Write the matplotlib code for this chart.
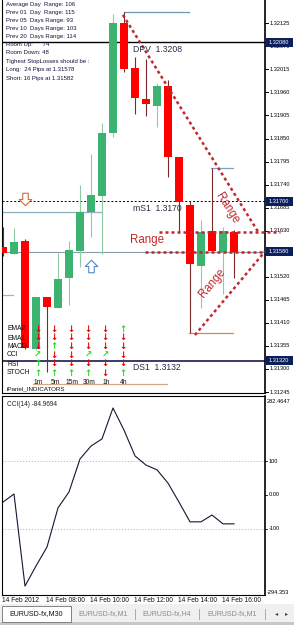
import matplotlib
matplotlib.use("Agg")
import matplotlib.pyplot as plt
import matplotlib.transforms as mtransforms
from matplotlib.path import Path
from matplotlib.patches import Rectangle

plt.rcParams['font.family'] = ['Liberation Sans', 'DejaVu Sans']

# ---------------- data ----------------
date_label = "14 Feb"
year_label = "2012"
times = ["06:00", "06:30", "07:00", "07:30", "08:00", "08:30", "09:00", "09:30",
         "10:00", "10:30", "11:00", "11:30", "12:00", "12:30", "13:00", "13:30",
         "14:00", "14:30", "15:00", "15:30", "16:00", "16:30"]
opens = [1.31591, 1.31574, 1.31605, 1.31348, 1.31472, 1.31445, 1.31517, 1.31582,
         1.31675, 1.31713, 1.31863, 1.32126, 1.32018, 1.31944, 1.31928, 1.31975,
         1.31806, 1.31691, 1.31546, 1.31629, 1.31580, 1.31627]
highs = [1.31639, 1.31636, 1.31610, 1.31472, 1.31472, 1.31577, 1.31605, 1.31739,
         1.31813, 1.31887, 1.32147, 1.32152, 1.32045, 1.32040, 1.31982, 1.31990,
         1.31806, 1.31701, 1.31656, 1.31780, 1.31639, 1.31632]
lows = [1.31570, 1.31574, 1.31348, 1.31345, 1.31293, 1.31445, 1.31453, 1.31543,
        1.31615, 1.31574, 1.31854, 1.32009, 1.31909, 1.31904, 1.31878, 1.31758,
        1.31627, 1.31386, 1.31445, 1.31582, 1.31480, 1.31517]
closes = [1.31577, 1.31603, 1.31350, 1.31472, 1.31448, 1.31514, 1.31584, 1.31675,
          1.31715, 1.31863, 1.32126, 1.32016, 1.31947, 1.31932, 1.31975, 1.31806,
          1.31699, 1.31550, 1.31627, 1.31582, 1.31629, 1.31580]
cci_values = [-21, 3, -268, -209, -153, -38, 9, 106, 144, 165, 256, 191, 115,
              88, 74, 35, -21, -79, -79, -59, -85, -84.9694]
cci_period = 14
cci_max = 282.4647
cci_min = -294.353
cci_levels = [100, -100]

level_names = ["DPV", "mS1", "DS1"]
level_values = [1.3208, 1.3170, 1.3132]
current_price = 1.31580
range_high = 1.31627
range_low = 1.31580
range_upper_x = [10.9, 23.2]
range_upper_y = [1.32145, 1.31627]
range_lower_x = [17.45, 23.8]
range_lower_y = [1.31381, 1.31580]
range_high_x = [14.2, 25.2]
range_low_x = [12.9, 23.8]

price_ticks = [1.32125, 1.32070, 1.32015, 1.31960, 1.31905, 1.31850, 1.31795,
               1.31740, 1.31685, 1.31630, 1.31575, 1.31520, 1.31465, 1.31410,
               1.31355, 1.31300, 1.31245]
marked_prices = [1.32080, 1.31700, 1.31580, 1.31320]

# extra horizontal objects: (price, x_start_bar, x_end_bar, color)
hlines_obj = [(1.32152, 11.0, 16.9, '#6F98AE'),
              (1.31675, -0.1, 8.9, '#8FAFC3'),
              (1.31477, -0.1, 0.9, '#D2A88A'),
              (1.31264, 2.7, 14.9, '#D2A88A'),
              (1.31386, 16.9, 20.9, '#D08A5A'),
              (1.31780, 18.9, 20.9, '#7FA3B8')]
down_signal = (2, 1.31706)
up_signal = (8, 1.31546)

info_lines = ["Average Day  Range: 106",
              "Prev 01  Day  Range: 115",
              "Prev 05  Days Range: 93",
              "Prev 10  Days Range: 103",
              "Prev 20  Days Range: 114",
              "Room Up:      74",
              "Room Down: 48",
              "Tighest StopLosses should be :",
              "Long:  24 Pips at 1.31578",
              "Short: 16 Pips at 1.31582"]

panel_rows = ["EMA2", "EMA1", "MACD", "CCI", "RSI", "STOCH"]
panel_tfs = ["1m", "5m", "15m", "30m", "1h", "4h"]
panel_signals = [["d", "d", "d", "d", "d", "u"],
                 ["d", "d", "d", "d", "d", "d"],
                 ["d", "u", "d", "d", "d", "d"],
                 ["ur", "d", "d", "ur", "ur", "d"],
                 ["u", "d", "d", "d", "d", "d"],
                 ["u", "u", "u", "u", "d", "u"]]
panel_title = "iPanel_INDICATORS"

tabs = ["EURUSD-fx,M30", "EURUSD-fx,M1", "EURUSD-fx,H4", "EURUSD-fx,M1"]

# ---------------- layout ----------------
W, H = 294, 625
fig = plt.figure(figsize=(W / 100, H / 100), dpi=100)
fig.patch.set_facecolor('white')

def fx(px):
    return px / W

PLOT_L, PLOT_R = 2, 265
MAIN_T, MAIN_B = 0, 393
CCI_T, CCI_B = 396, 595
BAR_PX, BAR0_PX = 11.0, 3.0
REF_P, REF_PY, PX_PER_P = 1.32125, 23.3, 41900.0
AXW = PLOT_R - PLOT_L

ax = fig.add_axes([fx(PLOT_L), 1 - MAIN_B / H, AXW / W, (MAIN_B - MAIN_T) / H])
xl = ((PLOT_L - BAR0_PX) / BAR_PX, (PLOT_R - BAR0_PX) / BAR_PX)
ax.set_xlim(*xl)
ax.set_ylim(REF_P - (MAIN_B - REF_PY) / PX_PER_P, REF_P + (REF_PY - MAIN_T) / PX_PER_P)
ax.set_xticks([]); ax.set_yticks([])
for s in ax.spines.values():
    s.set_color('black'); s.set_linewidth(0.8)
ax.spines['top'].set_visible(False)
ax.spines['right'].set_linewidth(1.2)

# level lines
ax.axhline(level_values[0], color='black', lw=1.0, zorder=1)
ax.axhline(level_values[1], color='black', lw=0.7, ls=(0, (2, 2)), zorder=1)
ax.axhline(level_values[2], color='#1A1A50', lw=1.2, zorder=1)
ax.axhline(current_price, color='#8C9BA5', lw=0.8, zorder=1)
lab_tr = mtransforms.offset_copy(ax.transData, fig=fig, y=-2.5, units='dots')
for n, v in zip(level_names, level_values):
    ax.text(11.82, v, f"{n}  {v:.4f}", transform=lab_tr, fontsize=6.2,
            color='#2B2B45', va='top', ha='left', zorder=6)

for p, a, b, c in hlines_obj:
    ax.plot([a, b], [p, p], color=c, lw=0.9, zorder=2)

# candles
for i in range(len(opens)):
    o, h, l, c = opens[i], highs[i], lows[i], closes[i]
    bull = c >= o
    wick = '#8FCCA5' if bull else '#7B2A2A'
    body = '#3CB371' if bull else '#FF0000'
    ax.vlines(i, l, h, color=wick, lw=0.8, zorder=3)
    ax.bar(i, max(abs(c - o), 0.00002), bottom=min(o, c), width=0.64,
           color=body, linewidth=0, zorder=4)

# range lines
rc = '#C0282D'
dash = dict(color=rc, lw=1.8, ls=(0, (1.2, 1.2)), zorder=5, clip_on=False)
ax.plot(range_upper_x, range_upper_y, **dash)
ax.plot(range_lower_x, range_lower_y, **dash)
ax.plot(range_high_x, [range_high, range_high], **dash)
ax.plot(range_low_x, [range_low, range_low], **dash)
ax.text(13.1, 1.31607, "Range", color=rc, fontsize=8.3, ha='center', va='center', zorder=6)
ax.text(20.4, 1.31684, "Range", color=rc, fontsize=8.3, ha='center', va='center',
        rotation=-58, rotation_mode='anchor', zorder=6)
ax.text(19.0, 1.31505, "Range", color=rc, fontsize=8.3, ha='center', va='center',
        rotation=50, rotation_mode='anchor', zorder=6)

# hollow arrows
arrow_down = Path([(-0.22, 0.5), (0.22, 0.5), (0.22, 0.0), (0.5, 0.0), (0.0, -0.5),
                   (-0.5, 0.0), (-0.22, 0.0), (-0.22, 0.5)],
                  [1, 2, 2, 2, 2, 2, 2, 79])
arrow_up = Path([(x_, -y_) for x_, y_ in arrow_down.vertices], arrow_down.codes)
ax.plot([down_signal[0]], [down_signal[1]], marker=arrow_down, ms=9,
        mfc='white', mec='#C8703C', mew=0.8, ls='none', zorder=6)
ax.plot([up_signal[0]], [up_signal[1]], marker=arrow_up, ms=9,
        mfc='white', mec='#4A8CC8', mew=0.8, ls='none', zorder=6)

# price axis
trans = mtransforms.blended_transform_factory(ax.transAxes, ax.transData)
for v in price_ticks:
    ax.plot([1, 1 + 3 / AXW], [v, v], transform=trans, clip_on=False, color='black', lw=0.7)
    if any(abs(v - m) < 0.00007 for m in marked_prices if abs(v - m) < 0.00006):
        continue  # label hidden under the marked-price box
    ax.text(1 + 5 / AXW, v, f"{v:.5f}", transform=trans, fontsize=4.1, va='center',
            ha='left', color='black', clip_on=False)
for v in marked_prices:
    ax.add_patch(Rectangle((1 + 1 / AXW, v - 4.5 / PX_PER_P), 27 / AXW, 9 / PX_PER_P,
                           transform=trans, clip_on=False, facecolor='#0B1F5C',
                           edgecolor='none', zorder=7))
    ax.text(1 + 4 / AXW, v, f"{v:.5f}", transform=trans, fontsize=4.1, va='center',
            ha='left', color='white', clip_on=False, zorder=8)

# ---------------- CCI panel ----------------
ax2 = fig.add_axes([fx(PLOT_L), 1 - CCI_B / H, AXW / W, (CCI_B - CCI_T) / H])
ax2.set_xlim(*xl)
unit_per_px = (cci_max - cci_min) / 196.0
ax2.set_ylim(cci_min, cci_min + (CCI_B - CCI_T) * unit_per_px)
ax2.set_xticks([]); ax2.set_yticks([])
for s in ax2.spines.values():
    s.set_color('black'); s.set_linewidth(0.8)
ax2.spines['right'].set_linewidth(1.2)
for lv in cci_levels:
    ax2.axhline(lv, color='#B4B4B4', lw=0.6, ls=(0, (1.5, 2)))
ax2.plot(range(len(cci_values)), cci_values, color='#151530', lw=0.8)
ax2.text(5 / AXW, 1 - 8 / (CCI_B - CCI_T), f"CCI({cci_period}) {cci_values[-1]:.4f}",
         transform=ax2.transAxes, fontsize=4.7, va='center', ha='left', color='#202020')
t2 = mtransforms.blended_transform_factory(ax2.transAxes, ax2.transData)
ax2.text(1 + 2 / AXW, cci_max, f"{cci_max:.4f}", transform=t2, fontsize=4.1,
         va='top', ha='left', clip_on=False)
ax2.text(1 + 2 / AXW, cci_min, f"{cci_min:.3f}", transform=t2, fontsize=4.1,
         va='bottom', ha='left', clip_on=False)
for v, s in [(100, "100"), (0, "0.00"), (-100, "-100")]:
    ax2.plot([1, 1 + 2 / AXW], [v, v], transform=t2, clip_on=False, color='black', lw=0.6)
    ax2.text(1 + 4 / AXW, v, s, transform=t2, fontsize=4.1, va='center', ha='left',
             clip_on=False)

# date labels
xt = ax2.get_xaxis_transform()
for i in range(0, len(times), 4):
    lab = f"{date_label} {year_label}" if i == 0 else f"{date_label} {times[i]}"
    ax2.text(i - 0.05, -(601 - CCI_B) / (CCI_B - CCI_T), lab, transform=xt,
             fontsize=4.8, va='center', ha='left', clip_on=False, color='#101010')

# ---------------- overlay (pixel coords) ----------------
ov = fig.add_axes([0, 0, 1, 1], zorder=10)
ov.set_xlim(0, W); ov.set_ylim(H, 0); ov.axis('off'); ov.patch.set_alpha(0)

info_y = [4.5, 12.5, 20.5, 28.5, 36.5, 44.5, 52.5, 61.5, 70, 78.5]
for s, yy in zip(info_lines, info_y):
    ov.text(6, yy, s, fontsize=4.3, color='#14143C', va='center', ha='left')

row_y = [329, 338, 346.5, 355, 364, 373]
col_x = [37.5, 54, 71, 88, 105, 123]
for r, yy in zip(panel_rows, row_y):
    ov.text(7, yy, r, fontsize=4.9, color='#101010', va='center', ha='left')
glyph = {"d": ("\u2193", '#E00000'), "u": ("\u2191", '#22DD22'), "ur": ("\u2197", '#22DD22')}
for sig_row, yy in zip(panel_signals, row_y):
    for s, xx in zip(sig_row, col_x):
        g, c = glyph[s]
        ov.text(xx, yy, g, fontsize=6.2, color=c, fontweight='bold', va='center',
                ha='center', family='DejaVu Sans')
for t, xx in zip(panel_tfs, col_x):
    ov.text(xx + 1, 382, t, fontsize=4.8, color='#101010', va='center', ha='center')
ov.text(7, 388.5, panel_title, fontsize=4.5, color='#101010', va='center', ha='left')

# tab bar
ov.add_patch(Rectangle((0, 604), W, 21, facecolor='#F0F0F0', edgecolor='none'))
ov.add_patch(Rectangle((0, 622), W, 3, facecolor='#C8C8C8', edgecolor='none'))
ov.add_patch(Rectangle((2, 605.5), 69, 16, facecolor='white', edgecolor='#707070', lw=0.6))
tab_x = [36, 103, 167, 232]
for k, (t, xx) in enumerate(zip(tabs, tab_x)):
    ov.text(xx, 614, t, fontsize=5.0, ha='center', va='center',
            color='#101010' if k == 0 else '#8A8A8A')
for xx in [135, 199, 265]:
    ov.plot([xx, xx], [609, 619], color='#A0A0A0', lw=0.6)
ov.text(277, 614, "\u25C2", fontsize=4.5, ha='center', va='center', color='#404040',
        family='DejaVu Sans')
ov.text(287, 614, "\u25B8", fontsize=4.5, ha='center', va='center', color='#404040',
        family='DejaVu Sans')

fig.savefig("out.png", dpi=100)
